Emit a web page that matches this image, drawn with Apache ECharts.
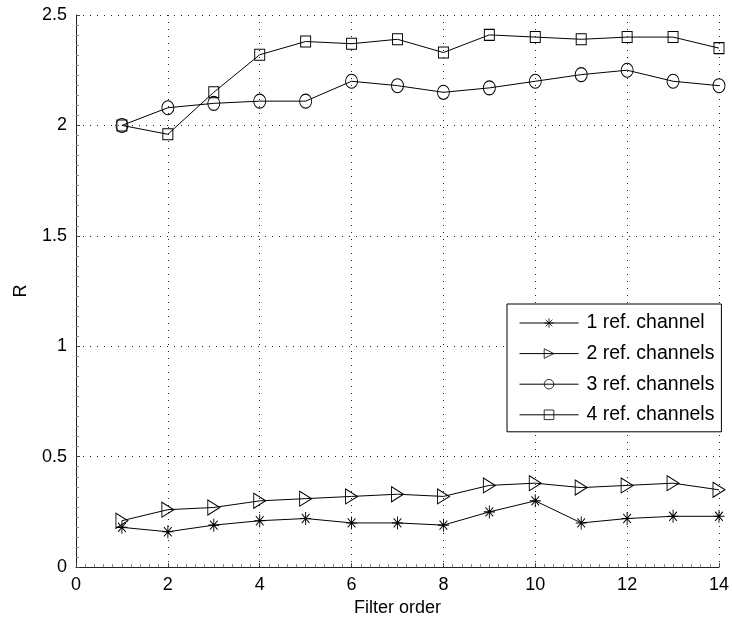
<!DOCTYPE html>
<html>
<head>
<meta charset="utf-8">
<script src="https://cdn.jsdelivr.net/npm/echarts@6/dist/echarts.min.js"></script>
<style>
  html, body { margin: 0; padding: 0; background: #fff; }
  #chart { width: 732px; height: 622px; }
</style>
</head>
<body>
<div id="chart"></div>
<script>
// Filter orders on the x axis
const filterOrder = [1, 2, 3, 4, 5, 6, 7, 8, 9, 10, 11, 12, 13, 14];

// R for each number of reference channels
const r1ch = [0.18, 0.16, 0.19, 0.21, 0.22, 0.20, 0.20, 0.19, 0.25, 0.30, 0.20, 0.22, 0.23, 0.23];
const r2ch = [0.21, 0.26, 0.27, 0.30, 0.31, 0.32, 0.33, 0.32, 0.37, 0.38, 0.36, 0.37, 0.38, 0.35];
const r3ch = [2.00, 2.08, 2.10, 2.11, 2.11, 2.20, 2.18, 2.15, 2.17, 2.20, 2.23, 2.25, 2.20, 2.18];
const r4ch = [2.00, 1.96, 2.15, 2.32, 2.38, 2.37, 2.39, 2.33, 2.41, 2.40, 2.39, 2.40, 2.40, 2.35];

const seriesNames = ['1 ref. channel', '2 ref. channels', '3 ref. channels', '4 ref. channels'];

const FONT = '"Liberation Sans", Arial, Helvetica, sans-serif';

const markers = [
  { symbol: 'path://M0,-10L0,10M-10,0L10,0M-7,-7L7,7M-7,7L7,-7', size: [11, 13] },
  { symbol: 'path://M-6,-8L6,0L-6,8Z', size: [12, 15] },
  { symbol: 'circle', size: [12, 14] },
  { symbol: 'rect', size: [10, 11] }
];

function pairs(ys) {
  return filterOrder.map((x, i) => [x, ys[i]]);
}

const allSeries = [r1ch, r2ch, r3ch, r4ch].map((ys, k) => ({
  name: seriesNames[k],
  type: 'line',
  data: pairs(ys),
  symbol: markers[k].symbol,
  symbolSize: markers[k].size,
  showAllSymbol: true,
  animation: false,
  lineStyle: { color: '#000', width: 1 },
  itemStyle: { color: 'rgba(255,255,255,0)', borderColor: '#000', borderWidth: 1 },
  emphasis: { disabled: true }
}));

const chart = echarts.init(document.getElementById('chart'), null, { renderer: 'canvas' });

chart.setOption({
  backgroundColor: '#fff',
  animation: false,
  grid: { left: 76, right: 11, top: 15, bottom: 54, containLabel: false },
  xAxis: {
    type: 'value',
    min: 0, max: 14, interval: 2,
    name: 'Filter order',
    nameLocation: 'middle',
    nameGap: 28,
    nameTextStyle: { fontFamily: FONT, fontSize: 18, color: '#000' },
    axisLine: { show: true, onZero: false, lineStyle: { color: '#222', width: 1 } },
    axisTick: { show: true, inside: true, length: 4, lineStyle: { color: '#444' } },
    minorTick: { show: true, splitNumber: 10, length: 3, lineStyle: { color: '#888' } },
    axisLabel: { fontFamily: FONT, fontSize: 18, color: '#000', margin: 9 },
    splitLine: { show: true, lineStyle: { color: '#222', width: 1, type: [1, 6] } }
  },
  yAxis: {
    type: 'value',
    min: 0, max: 2.5, interval: 0.5,
    name: 'R',
    nameLocation: 'middle',
    nameGap: 46,
    nameTextStyle: { fontFamily: FONT, fontSize: 18, color: '#000' },
    axisLine: { show: true, onZero: false, lineStyle: { color: '#222', width: 1 } },
    axisTick: { show: true, inside: true, length: 4, lineStyle: { color: '#444' } },
    minorTick: { show: true, splitNumber: 11, length: 3, lineStyle: { color: '#888' } },
    axisLabel: { fontFamily: FONT, fontSize: 18, color: '#000', margin: 9 },
    splitLine: { show: true, lineStyle: { color: '#222', width: 1, type: [1, 6] } }
  },
  legend: {
    data: seriesNames,
    orient: 'vertical',
    left: 507,
    top: 304,
    backgroundColor: '#fff',
    borderColor: '#000',
    borderWidth: 1,
    padding: [9, 7, 7, 12],
    itemWidth: 59,
    itemHeight: 12,
    itemGap: 10.6,
    lineStyle: { width: 1, color: '#000' },
    itemStyle: { borderWidth: 0.8, borderColor: '#000', color: 'rgba(255,255,255,0)' },
    textStyle: { fontFamily: FONT, fontSize: 19.5, color: '#000', padding: [0, 0, 0, 3] },
    selectedMode: false
  },
  series: allSeries
});
</script>
</body>
</html>
